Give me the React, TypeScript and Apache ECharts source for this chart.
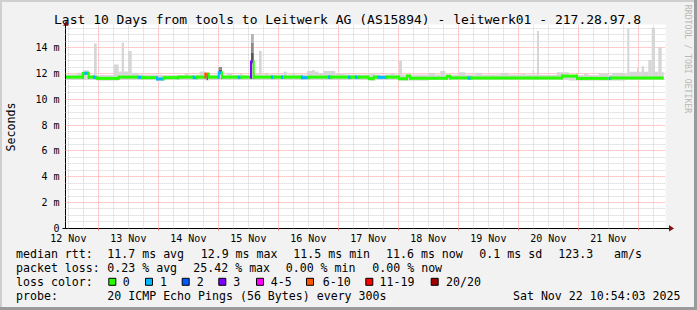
import React, { useEffect, useRef } from 'react';
import * as echarts from 'echarts';

// ---------- data (x = hours since 12 Nov 00:00, y = milliseconds) ----------
const TITLE = 'Last 10 Days from tools to Leitwerk AG (AS15894) - leitwerk01 - 217.28.97.8';
const X_MIN = 10.9;
const X_MAX = 250.9;
const Y_MIN = 0;
const Y_MAX = 15.8;
const DAY_LABELS = ['12 Nov', '13 Nov', '14 Nov', '15 Nov', '16 Nov', '17 Nov', '18 Nov', '19 Nov', '20 Nov', '21 Nov'];
const DAY_NOONS = [12, 36, 60, 84, 108, 132, 156, 180, 204, 228];
const DAY_MIDNIGHTS = [24, 48, 72, 96, 120, 144, 168, 192, 216, 240];
const MINOR_X_STEP = 6;
const Y_TICKS = [0, 2, 4, 6, 8, 10, 12, 14];
const MINOR_Y_STEP = 0.5;

const LOSS_LABELS = ['0', '1', '2', '3', '4-5', '6-10', '11-19', '20/20'];
const LOSS_COLORS = ['#26ff00', '#00b8ff', '#0059ff', '#7e00ff', '#ff00ff', '#ff5500', '#ff0000', '#a10000'];

// median rtt: [start h, end h, value ms, loss colour index]
const MEDIAN: number[][] = [
  [11.06, 17.74, 11.72, 0], [17.74, 18.78, 12.0, 0], [18.78, 20.14, 12.02, 1],
  [20.14, 22.26, 11.72, 0], [22.26, 23.34, 11.7, 1], [23.34, 32.14, 11.62, 0],
  [32.14, 40.14, 11.72, 0], [40.14, 41.46, 11.7, 1], [41.46, 47.46, 11.68, 0],
  [47.46, 50.14, 11.58, 1], [50.14, 55.46, 11.68, 0], [55.46, 56.14, 11.68, 1],
  [56.14, 62.14, 11.72, 0], [62.14, 63.46, 11.68, 1], [63.46, 66.78, 11.72, 0],
  [66.78, 68.14, 11.95, 5], [68.14, 72.14, 11.72, 0], [72.14, 73.46, 12.05, 1],
  [73.46, 80.14, 11.72, 0], [80.14, 81.18, 11.7, 1], [81.18, 85.06, 11.72, 0],
  [85.06, 86.14, 12.9, 3], [86.14, 93.46, 11.72, 0], [93.46, 94.26, 11.7, 1],
  [94.26, 97.46, 11.72, 0], [97.46, 98.26, 11.7, 1], [98.26, 105.46, 11.72, 0],
  [105.46, 108.14, 11.68, 1], [108.14, 116.26, 11.72, 0], [116.26, 117.06, 11.7, 1],
  [117.06, 124.26, 11.72, 0], [124.26, 125.18, 11.7, 1], [125.18, 127.06, 11.72, 0],
  [127.06, 128.14, 11.7, 1], [128.14, 132.14, 11.72, 0], [132.14, 134.14, 11.6, 0],
  [134.14, 136.14, 11.72, 0], [136.14, 139.46, 11.7, 1], [139.46, 144.26, 11.72, 0],
  [144.26, 147.46, 11.6, 0], [147.46, 148.66, 11.8, 0], [148.66, 163.46, 11.64, 0],
  [163.46, 164.66, 11.78, 0], [164.66, 172.14, 11.66, 0], [172.14, 173.18, 11.64, 1],
  [173.18, 209.46, 11.66, 0], [209.46, 215.46, 11.8, 0], [215.46, 228.14, 11.62, 0],
  [228.14, 229.18, 11.62, 1], [229.18, 250.14, 11.66, 0],
];

// smoke (light): [start h, end h, low ms, high ms]
const SMOKE: number[][] = [
  [11.06, 15.5, 11.5, 11.92], [15.5, 17.74, 11.5, 12.05], [17.74, 20.14, 11.5, 12.25],
  [20.14, 22.26, 11.5, 11.9], [22.26, 23.34, 11.5, 14.33], [23.34, 30.14, 11.45, 11.88],
  [30.14, 32.14, 11.45, 12.7], [32.14, 33.34, 11.5, 12.15], [33.34, 34.26, 11.5, 14.4],
  [34.26, 35.98, 11.5, 12.15], [35.98, 37.34, 11.5, 13.75], [37.34, 40.0, 11.5, 12.05],
  [40.0, 47.46, 11.5, 11.92], [47.46, 50.14, 11.42, 11.9], [50.14, 58.5, 11.5, 11.88],
  [58.5, 60.0, 11.5, 12.0], [60.0, 64.5, 11.5, 11.9], [64.5, 66.78, 11.5, 12.15],
  [66.78, 68.14, 11.45, 12.0], [68.14, 72.14, 11.5, 11.9], [72.14, 73.46, 11.5, 12.5],
  [73.46, 75.5, 11.5, 11.9], [75.5, 77.5, 11.5, 12.05], [77.5, 80.7, 11.5, 11.9],
  [80.7, 81.7, 11.5, 12.0], [81.7, 85.06, 11.5, 11.9], [85.06, 86.14, 11.5, 15.06],
  [86.14, 88.26, 11.5, 11.95], [88.26, 89.34, 11.5, 13.75], [89.34, 90.7, 11.5, 11.92],
  [90.7, 92.1, 11.5, 12.05], [92.1, 98.1, 11.5, 11.92], [98.1, 99.5, 11.5, 12.14],
  [99.5, 101.5, 11.5, 11.92], [101.5, 102.6, 11.5, 12.05], [102.6, 107.5, 11.5, 11.92],
  [107.5, 109.5, 11.5, 12.2], [109.5, 110.5, 11.5, 12.27], [110.5, 112.1, 11.5, 12.15],
  [112.1, 114.1, 11.5, 12.0], [114.1, 118.8, 11.5, 12.2], [118.8, 122.8, 11.5, 12.0],
  [122.8, 132.8, 11.5, 11.92], [132.8, 134.8, 11.45, 12.0], [134.8, 140.8, 11.5, 11.92],
  [140.8, 142.8, 11.5, 12.0], [142.8, 144.26, 11.5, 11.92], [144.26, 145.46, 11.45, 13.0],
  [145.46, 156.1, 11.45, 11.92], [156.1, 158.8, 11.5, 12.05], [158.8, 160.8, 11.5, 11.92],
  [160.8, 162.8, 11.5, 12.2], [162.8, 168.1, 11.5, 11.92], [168.1, 170.8, 11.5, 12.1],
  [170.8, 174.8, 11.5, 11.92], [174.8, 177.5, 11.5, 12.05], [177.5, 184.8, 11.5, 11.92],
  [184.8, 188.1, 11.5, 12.05], [188.1, 193.5, 11.5, 11.92], [193.5, 194.8, 11.5, 12.0],
  [194.8, 197.7, 11.5, 11.92], [197.7, 198.1, 11.5, 12.27], [198.1, 199.46, 11.5, 11.92],
  [199.46, 200.26, 11.5, 15.3], [200.26, 207.46, 11.5, 11.9], [207.46, 212.14, 11.5, 12.1],
  [212.14, 218.1, 11.45, 11.88], [218.1, 220.1, 11.45, 11.98], [220.1, 224.1, 11.45, 11.88],
  [224.1, 228.1, 11.45, 12.0], [228.1, 229.5, 11.45, 11.9], [229.5, 234.8, 11.45, 12.05],
  [234.8, 235.58, 11.5, 11.95], [235.58, 236.38, 11.5, 15.5], [236.38, 239.46, 11.5, 12.14],
  [239.46, 240.14, 11.5, 12.45], [240.14, 241.34, 11.5, 12.14], [241.34, 242.26, 11.5, 12.57],
  [242.26, 243.98, 11.5, 12.14], [243.98, 245.34, 11.5, 13.05], [245.34, 246.66, 11.5, 15.55],
  [246.66, 247.98, 11.5, 12.14], [247.98, 249.34, 11.5, 14.05], [249.34, 250.14, 11.5, 12.1],
];

// darker smoke at loss events: [start h, end h, low ms, high ms, shade index]
const DARK_SMOKE: number[][] = [
  [17.74, 18.02, 11.6, 12.02, 0], [19.86, 20.14, 11.6, 12.02, 0],
  [67.34, 67.7, 11.5, 11.95, 0],
  [72.0, 72.3, 11.6, 12.05, 0], [73.06, 73.34, 11.6, 12.05, 0],
  [72.14, 73.46, 12.05, 12.3, 1], [72.14, 73.46, 12.3, 12.5, 2],
  [85.06, 85.36, 11.6, 12.9, 0], [85.84, 86.14, 11.6, 12.9, 0],
  [85.06, 86.14, 12.9, 13.6, 1], [85.06, 86.14, 13.6, 14.4, 2], [85.06, 86.14, 14.4, 15.06, 3],
];

const MEDIAN_STATS = ['11.7 ms avg', '12.9 ms max', '11.5 ms min', '11.6 ms now', '0.1 ms sd', '123.3', 'am/s'];
const LOSS_STATS = ['0.23 % avg', '25.42 % max', '0.00 % min', '0.00 % now'];
const PROBE_TEXT = '20 ICMP Echo Pings (56 Bytes) every 300s';
const DATE_TEXT = 'Sat Nov 22 10:54:03 2025';

// ---------- layout & style ----------
const W = 697;
const H = 310;
const PLOT_LEFT = 65.6;
const PLOT_RIGHT = 665.6;
const PLOT_BOTTOM = 228.3;
const PX_PER_MS = 12.9;
const PLOT_TOP = PLOT_BOTTOM - (Y_MAX - Y_MIN) * PX_PER_MS;
const MONO = "'DejaVu Sans Mono', monospace";
const LEG_FONT = `11.6px ${MONO}`;
const MEDIAN_STATS_X = [107.3, 200.7, 293.3, 386, 479.3, 558.3, 614];
const LOSS_STATS_X = [107.3, 193.3, 285.7, 372.3];
const BOX_X = [108.3, 145, 181.7, 218.3, 256, 306, 365.3, 430.7];
const BOX_TEXT_X = [122.7, 160, 196.7, 233.3, 270.7, 322.7, 379.5, 446];
const ROW_Y = [254.3, 268.3, 282.3, 296.3];
const SMOKE_COLOR = '#d6d6d6';
const DARK_SHADES = ['#111111', '#5a5a5a', '#8a8a8a', '#b4b4b4'];
const MAJOR_GRID = '#ff9c9c';
const MINOR_GRID = '#cfcfcf';
const ARROW = '#7f1010';

function buildOption(): any {
  const snap = (v: number) => Math.floor(v) + 0.5;
  const gridSeries = {
    type: 'custom',
    silent: true,
    z: 1,
    data: [[X_MIN, Y_MIN]],
    renderItem: (_p: any, api: any) => {
      const children: any[] = [];
      const hline = (v: number, color: string) => {
        const a = api.coord([X_MIN, v]);
        const b = api.coord([X_MAX, v]);
        const y = snap(a[1]);
        children.push({ type: 'line', shape: { x1: a[0], y1: y, x2: b[0], y2: y }, style: { stroke: color, lineWidth: 1, lineDash: [1, 1] } });
      };
      const vline = (h: number, color: string) => {
        const a = api.coord([h, Y_MIN]);
        const b = api.coord([h, Y_MAX]);
        const x = snap(a[0]);
        children.push({ type: 'line', shape: { x1: x, y1: a[1], x2: x, y2: b[1] }, style: { stroke: color, lineWidth: 1, lineDash: [1, 1] } });
      };
      for (let v = MINOR_Y_STEP; v < Y_MAX; v += MINOR_Y_STEP) {
        if (Math.abs(v / 2 - Math.round(v / 2)) > 1e-6) hline(v, MINOR_GRID);
      }
      for (let h = Math.ceil(X_MIN / MINOR_X_STEP) * MINOR_X_STEP; h < X_MAX; h += MINOR_X_STEP) {
        if (h % 24 !== 0) vline(h, MINOR_GRID);
      }
      Y_TICKS.forEach((v) => { if (v > 0) hline(v, MAJOR_GRID); });
      DAY_MIDNIGHTS.forEach((h) => vline(h, MAJOR_GRID));
      return { type: 'group', children };
    },
  };

  const rectItem = (api: any, h0: number, h1: number, lo: number, hi: number, fill: string) => {
    const p0 = api.coord([h0, hi]);
    const p1 = api.coord([h1, lo]);
    return { type: 'rect', shape: { x: p0[0], y: p0[1], width: p1[0] - p0[0], height: p1[1] - p0[1] }, style: { fill } };
  };

  const smokeSeries = {
    type: 'custom',
    silent: true,
    z: 2,
    encode: { x: [0, 1], y: [2, 3] },
    data: SMOKE,
    renderItem: (_p: any, api: any) => rectItem(api, api.value(0), api.value(1), api.value(2), api.value(3), SMOKE_COLOR),
  };

  const darkSeries = {
    type: 'custom',
    silent: true,
    z: 3,
    encode: { x: [0, 1], y: [2, 3] },
    data: DARK_SMOKE,
    renderItem: (_p: any, api: any) =>
      rectItem(api, api.value(0), api.value(1), api.value(2), api.value(3), DARK_SHADES[api.value(4)]),
  };

  const medianSeries = {
    type: 'custom',
    silent: true,
    z: 4,
    encode: { x: [0, 1], y: 2 },
    data: MEDIAN,
    renderItem: (p: any, api: any) => {
      const h0 = api.value(0);
      const h1 = api.value(1);
      const v = api.value(2);
      const color = LOSS_COLORS[api.value(3)];
      const a = api.coord([h0, v]);
      const b = api.coord([h1, v]);
      const children: any[] = [
        { type: 'rect', shape: { x: a[0], y: a[1] - 1.5, width: b[0] - a[0], height: 3 }, style: { fill: color } },
      ];
      if (p.dataIndex > 0) {
        const prev = MEDIAN[p.dataIndex - 1];
        if (prev[2] !== v) {
          const py = api.coord([h0, prev[2]])[1];
          const top = Math.min(py, a[1]) - 1.5;
          const bot = Math.max(py, a[1]) + 1.5;
          children.push({ type: 'rect', shape: { x: a[0] - 1, y: top, width: 2, height: bot - top }, style: { fill: color } });
        }
      }
      return { type: 'group', children };
    },
  };

  const txt = (text: string, x: number, y: number, extra: any = {}) => ({
    type: 'text',
    x,
    y,
    silent: true,
    style: { text, font: LEG_FONT, fill: '#000', textAlign: 'left', textVerticalAlign: 'middle', ...extra },
  });

  const graphics: any[] = [
    // frame
    { type: 'line', shape: { x1: 0, y1: 1, x2: W, y2: 1 }, style: { stroke: '#cfcfcf', lineWidth: 2 } },
    { type: 'line', shape: { x1: 1, y1: 0, x2: 1, y2: H }, style: { stroke: '#cfcfcf', lineWidth: 2 } },
    { type: 'line', shape: { x1: 0, y1: H - 1.5, x2: W, y2: H - 1.5 }, style: { stroke: '#9a9a9a', lineWidth: 3 } },
    { type: 'line', shape: { x1: W - 1.5, y1: 0, x2: W - 1.5, y2: H }, style: { stroke: '#9a9a9a', lineWidth: 3 } },
    // title
    { type: 'text', x: 347.5, y: 19, silent: true, style: { text: TITLE, font: `13px ${MONO}`, fill: '#000', textAlign: 'center', textVerticalAlign: 'middle' } },
    // y axis title
    { type: 'text', x: 10.5, y: 127, rotation: Math.PI / 2, silent: true, style: { text: 'Seconds', font: LEG_FONT, fill: '#000', textAlign: 'center', textVerticalAlign: 'middle' } },
    // watermark
    { type: 'text', x: 688, y: 59, rotation: -Math.PI / 2, silent: true, style: { text: 'RRDTOOL / TOBI OETIKER', font: `8.2px ${MONO}`, fill: '#b8b8b8', textAlign: 'center', textVerticalAlign: 'middle' } },
    // axis extensions and arrows
    { type: 'line', shape: { x1: PLOT_RIGHT, y1: Math.floor(PLOT_BOTTOM) + 0.5, x2: 670, y2: Math.floor(PLOT_BOTTOM) + 0.5 }, style: { stroke: '#000', lineWidth: 1 } },
    { type: 'polygon', shape: { points: [[669, PLOT_BOTTOM - 3.2], [669, PLOT_BOTTOM + 3.2], [674, PLOT_BOTTOM + 0.2]] }, style: { fill: ARROW } },
    { type: 'line', shape: { x1: Math.floor(PLOT_LEFT) + 0.5, y1: PLOT_TOP, x2: Math.floor(PLOT_LEFT) + 0.5, y2: 24 }, style: { stroke: '#000', lineWidth: 1 } },
    { type: 'polygon', shape: { points: [[PLOT_LEFT - 2.5, 25.7], [PLOT_LEFT + 3.7, 25.7], [PLOT_LEFT + 0.6, 20.6]] }, style: { fill: ARROW } },
    { type: 'line', shape: { x1: 62.5, y1: Math.floor(PLOT_BOTTOM) + 0.5, x2: PLOT_LEFT, y2: Math.floor(PLOT_BOTTOM) + 0.5 }, style: { stroke: '#000', lineWidth: 1 } },
    // legend rows
    txt('median rtt:', 16, ROW_Y[0]),
    ...MEDIAN_STATS.map((s, i) => txt(s, MEDIAN_STATS_X[i], ROW_Y[0])),
    txt('packet loss:', 16, ROW_Y[1]),
    ...LOSS_STATS.map((s, i) => txt(s, LOSS_STATS_X[i], ROW_Y[1])),
    txt('loss color:', 16, ROW_Y[2]),
    ...LOSS_LABELS.map((_s, i) => ({
      type: 'rect',
      silent: true,
      shape: { x: BOX_X[i] + 0.5, y: ROW_Y[2] - 4, width: 7, height: 7 },
      style: { fill: LOSS_COLORS[i], stroke: '#000', lineWidth: 1 },
    })),
    ...LOSS_LABELS.map((s, i) => txt(s, BOX_TEXT_X[i], ROW_Y[2])),
    txt('probe:', 16, ROW_Y[3]),
    txt(PROBE_TEXT, 107.3, ROW_Y[3]),
    txt(DATE_TEXT, 680.5, ROW_Y[3], { textAlign: 'right' }),
  ];

  return {
    animation: false,
    backgroundColor: '#f2f2f2',
    grid: {
      left: PLOT_LEFT,
      top: PLOT_TOP,
      right: W - PLOT_RIGHT,
      bottom: H - PLOT_BOTTOM,
      show: true,
      backgroundColor: '#ffffff',
      borderWidth: 0,
      containLabel: false,
      outerBoundsMode: 'none',
    },
    xAxis: {
      type: 'value',
      min: X_MIN,
      max: X_MAX,
      axisLine: { show: true, onZero: false, lineStyle: { color: '#000', width: 1 } },
      axisTick: { show: true, customValues: DAY_MIDNIGHTS, length: 2, lineStyle: { color: '#ff6060' } },
      axisLabel: {
        customValues: DAY_NOONS,
        margin: 5,
        lineHeight: 10,
        fontFamily: MONO,
        fontSize: 10,
        color: '#000',
        formatter: (v: number) => {
          const i = DAY_NOONS.indexOf(Math.round(v));
          return i >= 0 ? DAY_LABELS[i] : '';
        },
      },
      splitLine: { show: false },
    },
    yAxis: {
      type: 'value',
      min: Y_MIN,
      max: Y_MAX,
      axisLine: { show: true, onZero: false, lineStyle: { color: '#000', width: 1 } },
      axisTick: { show: false },
      axisLabel: {
        customValues: Y_TICKS,
        margin: 6,
        lineHeight: 9,
        fontFamily: MONO,
        fontSize: 10,
        color: '#000',
        formatter: (v: number) => (v === 0 ? '0' : Y_TICKS.indexOf(v) >= 0 ? `${v} m` : ''),
      },
      splitLine: { show: false },
    },
    series: [gridSeries, smokeSeries, darkSeries, medianSeries],
    graphic: graphics,
  };
}

export default function App() {
  const ref = useRef<HTMLDivElement>(null);
  useEffect(() => {
    if (!ref.current) return;
    const chart = echarts.init(ref.current, null, { renderer: 'svg' });
    chart.setOption(buildOption());
    return () => chart.dispose();
  }, []);
  return <div ref={ref} style={{ position: 'absolute', left: 0, top: 0, width: W, height: H }} />;
}
